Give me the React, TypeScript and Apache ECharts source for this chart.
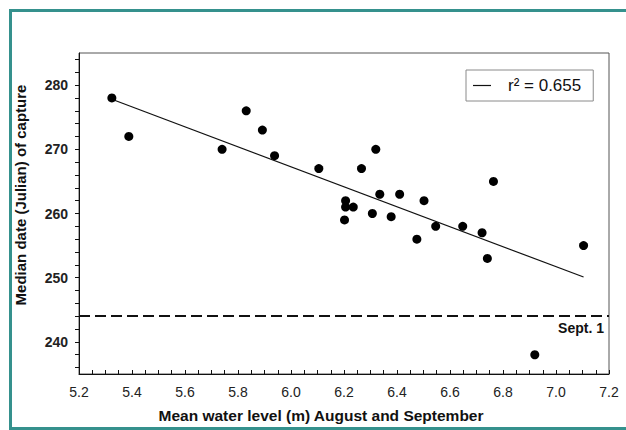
import React, { useEffect, useRef } from "react";
import * as echarts from "echarts";

// Mean water level (m) August and September
const waterLevel = [
  5.324, 5.388, 5.74, 5.831, 5.892, 5.938, 6.105, 6.266, 6.32, 6.206, 6.206, 6.235, 6.202,
  6.307, 6.335, 6.41, 6.378, 6.502, 6.475, 6.546, 6.648, 6.721, 6.741, 6.764, 7.104, 6.92,
];
// Median date (Julian) of capture
const medianDate = [
  278, 272, 270, 276, 273, 269, 267, 267, 270, 262, 261, 261, 259,
  260, 263, 263, 259.5, 262, 256, 258, 258, 257, 253, 265, 255, 238,
];
// Regression line end points
const fitX = [5.324, 7.104];
const fitY = [277.8, 250.1];
const fitName = "r\u00B2 = 0.655";

const sept1 = 244;
const xTickLabels = [5.2, 5.4, 5.6, 5.8, 6.0, 6.2, 6.4, 6.6, 6.8, 7.0, 7.2];
const yTickLabels = [240, 250, 260, 270, 280];
const yTicks = [236, 238, 240, 242, 244, 246, 248, 250, 252, 254, 256, 258, 260, 262, 264, 266, 268, 270, 272, 274, 276, 278, 280, 282, 284];
const xTicks: number[] = [];
for (let i = 0; i <= 40; i++) xTicks.push(Math.round((5.2 + i * 0.05) * 100) / 100);

const FONT = "'Liberation Sans', Arial, Helvetica, sans-serif";
const TEAL = "#35918d";

export default function App() {
  const ref = useRef<HTMLDivElement>(null);
  useEffect(() => {
    if (!ref.current) return;
    const chart = echarts.init(ref.current, undefined, { renderer: "svg" });
    chart.setOption({
      animation: false,
      backgroundColor: "#ffffff",
      textStyle: { fontFamily: FONT },
      grid: {
        left: 79,
        top: 53,
        right: 17,
        bottom: 56,
        show: true,
        borderColor: "#555",
        borderWidth: 1,
      },
      legend: {
        data: [{ name: fitName, icon: "rect" }],
        left: 466,
        top: 70,
        padding: [7, 12, 7, 7],
        itemWidth: 18,
        itemHeight: 1.2,
        borderColor: "#8a8a8a",
        borderWidth: 1,
        borderRadius: 0,
        selectedMode: false,
        itemStyle: { color: "#111" },
        textStyle: { fontSize: 17, color: "#111", fontFamily: FONT, padding: [0, 0, 0, 12], lineHeight: 17 },
      },
      xAxis: {
        type: "value",
        min: 5.2,
        max: 7.2,
        axisLine: { show: true, onZero: false, lineStyle: { color: "#111", width: 1 } },
        axisTick: { show: true, inside: true, length: 4, customValues: xTicks, lineStyle: { color: "#111" } },
        axisLabel: {
          customValues: xTickLabels,
          formatter: (v: number) => v.toFixed(1),
          fontSize: 14,
          color: "#222",
          margin: 11,
          fontFamily: FONT,
        },
        splitLine: { show: false },
      },
      yAxis: {
        type: "value",
        min: 235,
        max: 285,
        axisLine: { show: true, onZero: false, lineStyle: { color: "#111", width: 1 } },
        axisTick: { show: true, inside: false, length: 4, customValues: yTicks, lineStyle: { color: "#111" } },
        axisLabel: {
          customValues: yTickLabels,
          fontSize: 14,
          fontWeight: "bold",
          color: "#222",
          margin: 11,
          fontFamily: FONT,
        },
        splitLine: { show: false },
      },
      graphic: [
        { type: "rect", shape: { x: 9, y: 9, width: 617, height: 3 }, style: { fill: TEAL }, silent: true },
        { type: "rect", shape: { x: 9, y: 9, width: 3, height: 421 }, style: { fill: TEAL }, silent: true },
        { type: "rect", shape: { x: 9, y: 427, width: 617, height: 3 }, style: { fill: TEAL }, silent: true },
        {
          type: "text",
          x: 20,
          y: 195,
          rotation: Math.PI / 2,
          style: {
            text: "Median date (Julian) of capture",
            font: `bold 15px ${FONT}`,
            fill: "#111",
            textAlign: "center",
            textVerticalAlign: "middle",
          },
        },
        {
          type: "text",
          x: 321,
          y: 415,
          style: {
            text: "Mean water level (m) August and September",
            font: `bold 15.5px ${FONT}`,
            fill: "#111",
            textAlign: "center",
            textVerticalAlign: "middle",
          },
        },
      ],
      series: [
        {
          name: "points",
          type: "scatter",
          symbol: "circle",
          symbolSize: 9,
          itemStyle: { color: "#000", opacity: 1 },
          data: waterLevel.map((x, i) => [x, medianDate[i]]),
          z: 3,
          markLine: {
            silent: true,
            symbol: ["none", "none"],
            lineStyle: { type: [11, 5], width: 2, color: "#111" },
            label: {
              show: true,
              position: "insideEndBottom",
              formatter: "Sept. 1",
              fontWeight: "bold",
              fontSize: 14,
              color: "#111",
              fontFamily: FONT,
            },
            data: [{ yAxis: sept1 }],
          },
        },
        {
          name: fitName,
          type: "line",
          symbol: "none",
          showSymbol: false,
          lineStyle: { color: "#111", width: 1.2 },
          itemStyle: { color: "#111" },
          data: fitX.map((x, i) => [x, fitY[i]]),
          z: 2,
        },
      ],
    });
    return () => chart.dispose();
  }, []);
  return (
    <div
      ref={ref}
      style={{ position: "absolute", left: 0, top: 0, width: 626, height: 430 }}
    />
  );
}
